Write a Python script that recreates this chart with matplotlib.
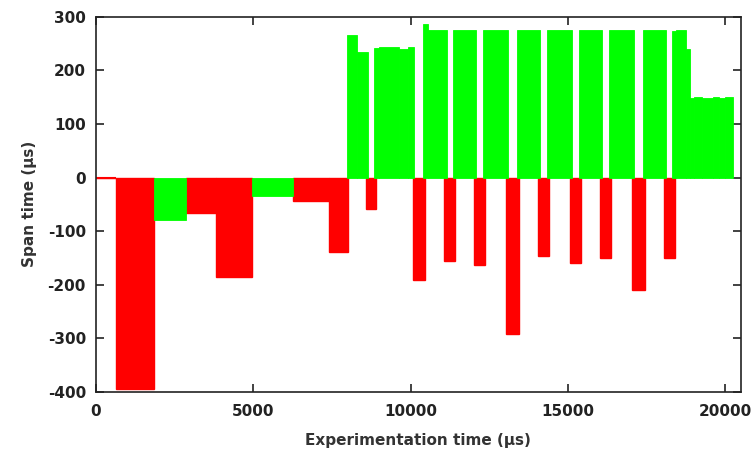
import numpy as np
import matplotlib
matplotlib.use('Agg')
import matplotlib.pyplot as plt

plt.rcParams['axes.unicode_minus'] = False

# Red segments (negative spans): start, end (us) and value (us)
red_start = [0, 645, 2869, 3823, 6260, 7423, 8580, 10073, 11077, 12021, 13038,
             14064, 15071, 16025, 17042, 18068]
red_end = [645, 1853, 3823, 4976, 7423, 8027, 8907, 10464, 11417, 12371, 13461,
           14404, 15421, 16365, 17455, 18398]
red_val = [0, -394, -66, -186, -43, -138, -59, -191, -155, -163, -291,
           -146, -159, -151, -210, -151]

# Green segments (positive and small negative spans)
green_start = [1853, 4976, 7976, 8294, 8853, 9012, 9647, 9933, 10391, 10550,
               11363, 12297, 13378, 14331, 15358, 16301, 17401,
               18303, 18430, 18748, 18875, 19021, 19257, 19625, 19806, 19975]
green_end = [2869, 6260, 8294, 8643, 9012, 9647, 9933, 10114, 10550, 11154,
             12085, 13111, 14118, 15126, 16079, 17105, 18122,
             18430, 18748, 18875, 19021, 19257, 19625, 19806, 19975, 20241]
green_val = [-79, -35, 266, 235, 241, 243, 240, 243, 286, 275,
             275, 275, 275, 275, 275, 275, 275,
             273, 275, 240, 149, 151, 149, 151, 149, 151]

red_start = np.array(red_start)
red_end = np.array(red_end)
red_val = np.array(red_val)
green_start = np.array(green_start)
green_end = np.array(green_end)

fig = plt.figure(figsize=(7.56, 4.55), dpi=100)
ax = fig.add_axes([0.1266, 0.1385, 0.8536, 0.8248])

ax.bar(red_start, red_val, width=red_end - red_start, align='edge',
       color='#ff0000', edgecolor='#ff0000', linewidth=1.0, zorder=2)
# zero-length spans only show up as a line on the axis
zero = red_val == 0
ax.hlines(red_val[zero], red_start[zero], red_end[zero], color='#ff0000',
          linewidth=1.5, zorder=2)
ax.bar(green_start, green_val, width=green_end - green_start, align='edge',
       color='#00ff00', edgecolor='#00ff00', linewidth=0.6, zorder=2)

ax.set_xlim(0, 20500)
ax.set_ylim(-400, 300)
ax.set_xticks([0, 5000, 10000, 15000, 20000])
ax.set_yticks(np.arange(-400, 301, 100))

for s in ax.spines.values():
    s.set_linewidth(1.2)
    s.set_color('#222222')
    s.set_zorder(3)

ax.tick_params(direction='in', top=True, right=True, length=6, width=1.2,
               color='#222222', labelsize=11)
ax.tick_params(axis='y', pad=7)
ax.tick_params(axis='x', pad=9)
for lab in ax.get_xticklabels() + ax.get_yticklabels():
    lab.set_fontweight('bold')
    lab.set_color('#222222')

ax.set_xlabel('Experimentation time (µs)', fontsize=11, fontweight='bold',
              color='#333333', labelpad=10)
ax.set_ylabel('Span time (µs)', fontsize=11, fontweight='bold',
              color='#333333', labelpad=8)

plt.savefig('out.png', dpi=100)
